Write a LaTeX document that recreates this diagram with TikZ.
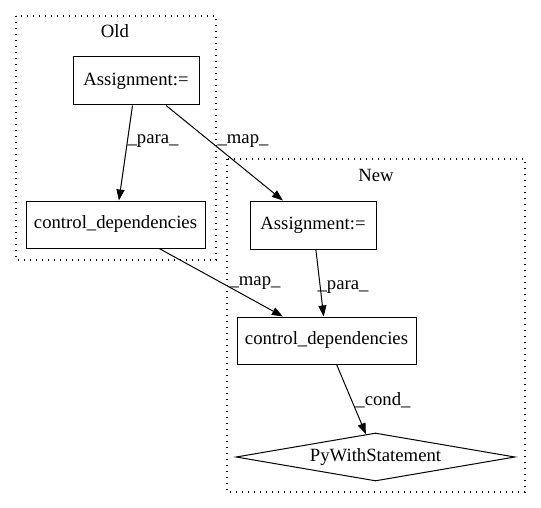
\documentclass[tikz,border=0pt]{standalone}
\usepackage{fontspec}
\setmainfont{Liberation Serif}
\usetikzlibrary{arrows.meta,shapes.geometric}
\tikzset{
	box/.style={draw, rectangle, minimum height=48pt, inner sep=0pt},
	cluster/.style={draw, line width=1.2pt, dash pattern=on 1.2pt off 4.8pt},
	flow/.style={->, >={Triangle[length=11pt,width=8pt]}},
	lbl/.style={inner sep=0pt}
}
\begin{document}
\begin{tikzpicture}[x=1pt,y=-1pt,line width=1pt,font=\fontsize{18.7}{22}\selectfont]
\useasboundingbox (0,0) rectangle (541,508);
% clusters
\draw[cluster] (16,16) rectangle (216,260);
\draw[cluster] (227,159) rectangle (525,492);
\node[lbl] (oldlbl) at (115,31) {Old};
\node[lbl] (newlbl) at (376,175) {New};

\node[box, minimum width=126pt] (oldassign) at (136,81) {Assignment:=};
\node[box, minimum width=179pt, minimum height=47pt] (oldcd) at (115.5,224.5) {control\_dependencies};
\node[box, minimum width=126pt] (newassign) at (313,225) {Assignment:=};
\node[box, minimum width=179pt, minimum height=47pt] (newcd) at (326.5,340.5) {control\_dependencies};
\node[draw, diamond, aspect=6, inner sep=0pt, minimum width=279pt, minimum height=48pt] (with) at (375.5,457) {PyWithStatement};

\draw[flow] (oldassign) -- (oldcd);
\draw[flow] (oldassign) -- (newassign);
\draw[flow] (oldcd) -- (newcd);
\draw[flow] (newassign) -- (newcd);
\draw[flow] (newcd) -- (with);

\node[lbl] at (153,141) {\_para\_};
\node[lbl] at (243,141) {\_map\_};
\node[lbl] at (255,283) {\_map\_};
\node[lbl] at (343,287) {\_para\_};
\node[lbl] at (383,400) {\_cond\_};
\end{tikzpicture}
\end{document}
